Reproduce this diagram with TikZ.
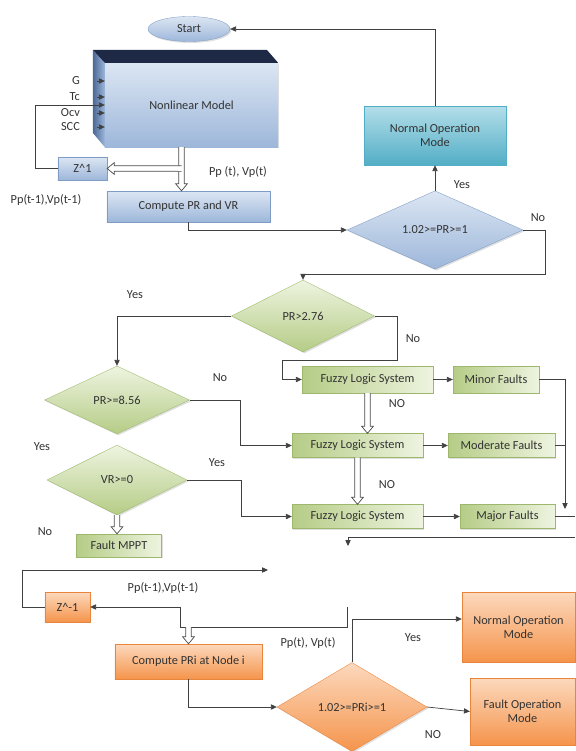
\documentclass[tikz,border=0pt]{standalone}
\usepackage{fontspec}
\setmainfont{Carlito}
\usepackage{xcolor}
\usepackage{tikz}
\usetikzlibrary{shapes.geometric,positioning,calc,arrows.meta,shadows}

\definecolor{blueTop}{HTML}{DCE6F3}
\definecolor{blueBot}{HTML}{9DB7DA}
\definecolor{blueLine}{HTML}{7F9CC4}
\definecolor{navy}{HTML}{1E2A45}
\definecolor{sideBlue}{HTML}{4A6795}
\definecolor{tealTop}{HTML}{B4DEE9}
\definecolor{tealBot}{HTML}{52AEC6}
\definecolor{greenTop}{HTML}{EEF4E0}
\definecolor{greenBot}{HTML}{B5CC86}
\definecolor{greenLine}{HTML}{9DB86C}
\definecolor{orangeTop}{HTML}{FCD9BD}
\definecolor{orangeBot}{HTML}{F5944C}
\definecolor{orangeLine}{HTML}{E8843C}

% block arrow: white outline arrow from #1 to #2
\newcommand{\hollowarrow}[2]{%
  \coordinate (ha) at (#1);
  \coordinate (hb) at (#2);
  \coordinate (hm) at ($(hb)!6pt!(ha)$);
  \draw[hollow] ($(ha)!2.4pt!90:(hb)$) -- ($(hm)!2.4pt!-90:(ha)$) -- ($(hm)!5pt!-90:(ha)$)
    -- (hb) -- ($(hm)!5pt!90:(ha)$) -- ($(hm)!2.4pt!90:(ha)$) -- ($(ha)!2.4pt!-90:(hb)$);
}

\begin{document}
\begin{tikzpicture}[x=0.03cm, y=-0.03cm,
  font=\fontsize{10.5}{12}\selectfont, text=black!80,
  line/.style={draw=black!75, line width=0.6pt},
  arr/.style={line, -{Triangle[length=5pt, width=4.5pt]}},
  hollow/.style={draw=black!70, fill=white, line width=0.6pt, line join=miter},
  softshadow/.style={drop shadow={shadow xshift=1.2pt, shadow yshift=-1.2pt, opacity=0.25}},
  bluebox/.style={softshadow, draw=blueLine, line width=0.3pt, top color=blueTop, bottom color=blueBot,
    align=center, inner sep=1pt},
  tealbox/.style={softshadow, draw=tealBot, line width=0.3pt, top color=tealTop, bottom color=tealBot,
    align=center, inner sep=1pt},
  greenbox/.style={softshadow, draw=greenLine, line width=0.3pt, left color=greenBot, right color=greenTop,
    align=center, inner sep=1pt},
  orangebox/.style={softshadow, draw=orangeLine, line width=0.3pt, top color=orangeTop, bottom color=orangeBot,
    align=center, inner sep=1pt},
  decide/.style={diamond, inner sep=0pt, align=center}]
  \useasboundingbox (0,0) rectangle (575,751);

  % Start and nonlinear model
  \node[ellipse, bluebox, minimum width=2.46cm, minimum height=0.75cm] (start) at (189,29) {Start};
  \node[bluebox, draw=none, minimum width=5.19cm, minimum height=2.52cm] (model) at (191.5,105) {Nonlinear Model};
  \path[left color=sideBlue, right color=blueBot] (model.north west) -- ++(-12,-13) -- ++(0,83) -- (model.south west) -- cycle;
  \fill[navy] (model.north west) -- ++(-12,-13) -- ++(174,0) -- (model.north east) -- cycle;

  \node[anchor=east] (lG) at (84,81) {G};
  \node[anchor=east] (lTc) at (84,97) {Tc};
  \node[anchor=east] (lOcv) at (84,113) {Ocv};
  \node[anchor=east] (lSCC) at (84,127) {SCC};
  \foreach \n in {lG,lTc,lOcv,lSCC}
    \draw[arr, shorten <=0.39cm] (\n.east) -- (\n.east -| model.west);

  \node[bluebox, minimum width=1.47cm, minimum height=0.69cm] (z1) at (82.5,168.5) {Z\textasciicircum1};
  \node[bluebox, minimum width=4.89cm, minimum height=0.93cm] (comp) at (188.5,206.5) {Compute PR and VR};
  \node (lpp) at (238,172) {Pp (t), Vp(t)};
  \node (lpp1) at (46,200) {Pp(t-1),Vp(t-1)};

  \draw[arr] (z1.west) -- ++(-22,0) |- (model.west);
  \coordinate (tap) at ($(model.south)+(-10,0)$);
  \hollowarrow{tap}{tap |- comp.north}
  \hollowarrow{tap |- z1.east}{z1.east}
  \fill[white] ($(tap |- z1.east)+(-3.5,-2)$) rectangle ($(tap |- z1.east)+(0.5,2)$);

  % first check
  \node[decide, bluebox, minimum width=5.28cm, minimum height=2.13cm] (pr1) at (435,230) {1.02>=PR>=1};
  \node[tealbox, minimum width=4.26cm, minimum height=1.77cm] (normal) at (435,135.5) {Normal Operation\\Mode};
  \draw[arr] (comp.south) |- (pr1.west);
  \draw[arr] (pr1.north) -- (normal.south);
  \node at (462,185) {Yes};
  \draw[arr] (normal.north) |- (start.east);

  % PR checks
  \node[decide, greenbox, top color=greenTop, bottom color=greenBot, minimum width=4.29cm, minimum height=2.16cm] (pr2) at (303,316) {PR>2.76};
  \node[decide, greenbox, top color=greenTop, bottom color=greenBot, minimum width=4.35cm, minimum height=2.04cm] (pr3) at (117,400) {PR>=8.56};
  \node[decide, greenbox, top color=greenTop, bottom color=greenBot, minimum width=4.2cm, minimum height=2.1cm] (vr) at (117,480) {VR>=0};
  \node[greenbox, minimum width=2.55cm, minimum height=0.69cm] (mppt) at (119,545.5) {Fault MPPT};

  \draw[arr] (pr1.east) -| ++(22,44) -| (pr2.north);
  \node at (538,218) {No};

  \node[greenbox, minimum width=3.93cm, minimum height=0.8cm] (fz1) at (367.5,379.5) {Fuzzy Logic System};
  \node[greenbox, minimum width=2.58cm, minimum height=0.8cm] (minor) at (496,379.5) {Minor Faults};
  \node[greenbox, minimum width=3.93cm, minimum height=0.72cm] (fz2) at (357.5,445.5) {Fuzzy Logic System};
  \node[greenbox, minimum width=3.21cm, minimum height=0.72cm] (moderate) at (501.5,445.5) {Moderate Faults};
  \node[greenbox, minimum width=3.93cm, minimum height=0.72cm] (fz3) at (357.5,516.5) {Fuzzy Logic System};
  \node[greenbox, minimum width=2.85cm, minimum height=0.72cm] (major) at (507.5,516.5) {Major Faults};

  \draw[arr] (pr2.west) -| (pr3.north);
  \node at (135,295) {Yes};
  \draw[arr] (pr2.east) -- ++(22.5,0) -- ++(0,44) -- ++(-115,0) |- (fz1.west);
  \node at (413,339) {No};
  \draw[arr] (pr3.east) -- ++(50.5,0) |- (fz2.west);
  \node at (220,378) {No};
  \node at (42,447) {Yes};
  \draw[arr] (vr.east) -- ++(54,0) |- (fz3.west);
  \node at (217,463) {Yes};
  \hollowarrow{vr.south}{vr.south |- mppt.north}
  \node at (45,532) {No};

  \draw[arr] (fz1) -- (minor);
  \draw[arr] (fz2) -- (moderate);
  \draw[arr] (fz3) -- (major);
  \hollowarrow{fz1.south}{fz1.south |- fz2.north}
  \node at (397,404) {NO};
  \hollowarrow{fz2.south}{fz2.south |- fz3.north}
  \node at (387,485) {NO};

  \coordinate (rj) at (565,509);
  \coordinate (redge) at (575,516.5);
  \coordinate (ro) at (575,537);
  \coordinate (rd) at (348,546);
  \draw[arr] (minor.east) -| (rj);
  \draw[line] (moderate.east) -- (moderate.east -| rj);
  \draw[line] (major.east) -- (redge);
  \draw[arr] (ro) -| (rd);

  % node level check
  \node[orangebox, minimum width=1.35cm, minimum height=0.9cm] (zm) at (67.5,607) {Z\textasciicircum-1};
  \node[orangebox, minimum width=4.41cm, minimum height=1.05cm] (cpi) at (188.5,661.5) {Compute PRi at Node i};
  \node[decide, orangebox, minimum width=4.5cm, minimum height=2.67cm] (pd) at (352,707) {1.02>=PRi>=1};
  \node[orangebox, minimum width=3.39cm, minimum height=2.1cm] (nm) at (518.5,627) {Normal Operation\\Mode};
  \node[orangebox, minimum width=3.15cm, minimum height=2.01cm] (fo) at (522.5,711.5) {Fault Operation\\Mode};

  \coordinate (fbout) at (268,570);
  \coordinate (pin) at (347,607);
  \coordinate (cpitop) at (188.5,627);
  \draw[arr] (zm.west) -- ++(-22,0) |- (fbout);
  \node at (163,588) {Pp(t-1),Vp(t-1)};
  \draw[arr] (pin) |- ++(-167,20) |- (zm.east);
  \hollowarrow{cpitop}{cpi.north}
  \node at (308,643) {Pp(t), Vp(t)};
  \draw[arr] (cpi.south) |- (pd.west);
  \draw[arr] (pd.north) |- ([yshift=0.24cm]nm.west);
  \node at (413,638) {Yes};
  \draw[arr] (pd.east) -- (fo.west);
  \node at (433,735) {NO};
\end{tikzpicture}
\end{document}
